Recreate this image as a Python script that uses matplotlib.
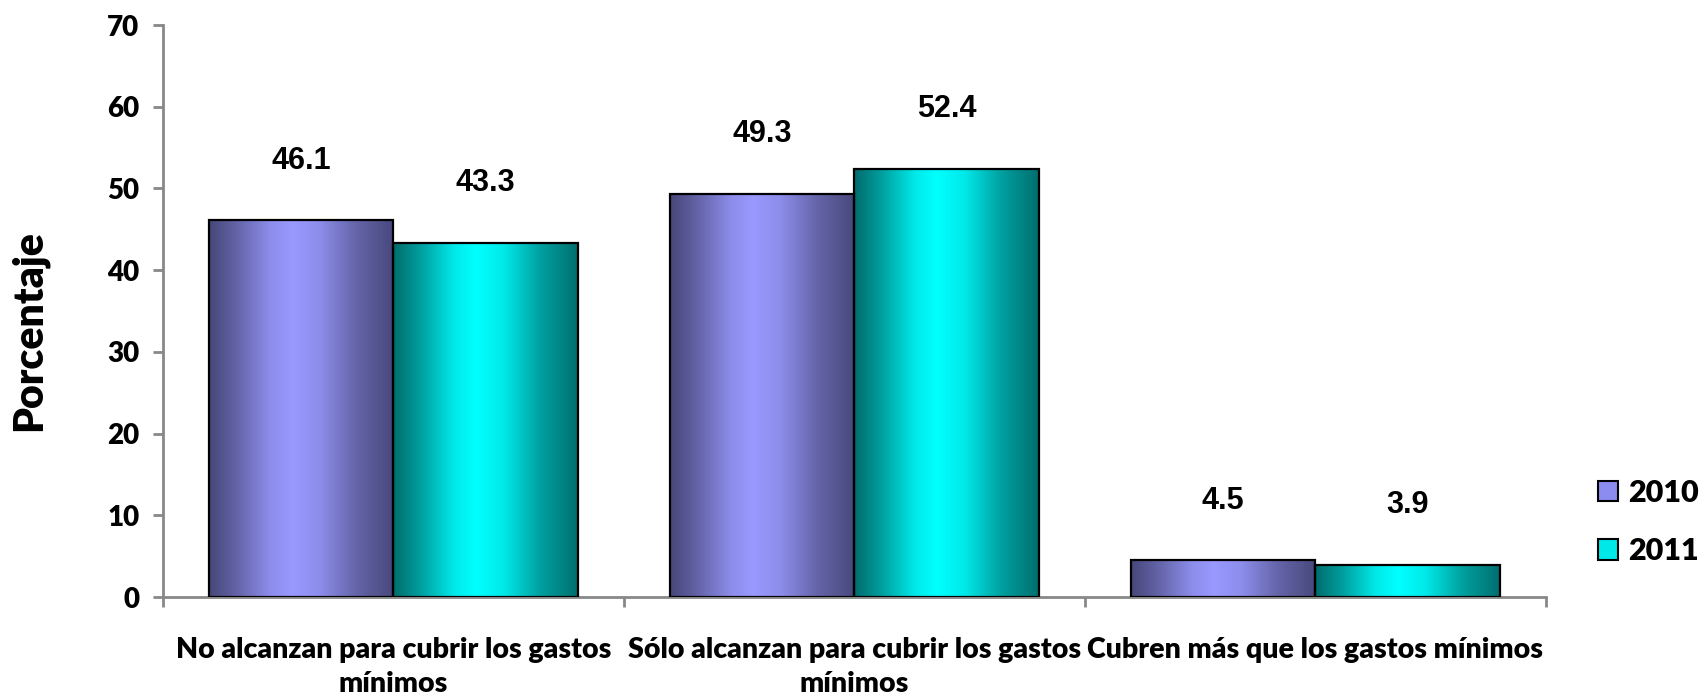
import numpy as np
import matplotlib.pyplot as plt
from matplotlib.colors import to_rgb
from matplotlib.patches import Patch

categories = ['No alcanzan para cubrir los gastos\nmínimos',
              'Sólo alcanzan para cubrir los gastos\nmínimos',
              'Cubren más que los gastos mínimos']
years = ['2010', '2011']
values_2010 = [46.1, 49.3, 4.5]
values_2011 = [43.3, 52.4, 3.9]

# dark edge / light centre of the cylinder-like shading
shades = {'2010': ('#47477a', '#9999ff'), '2011': ('#006c6c', '#00ffff')}

calibri = 'Lato'
heavy = 'heavy'
fig = plt.figure(figsize=(17.06, 6.98), dpi=100)
ax = fig.add_axes([163 / 1706, 1 - 597 / 698, (1546 - 163) / 1706, (597 - 25) / 698])

x = np.arange(len(categories))
w = 0.4


def shaded_bars(xpos, vals, year):
    dark, light = np.array(to_rgb(shades[year][0])), np.array(to_rgb(shades[year][1]))
    t = np.linspace(0, 1, 200)
    f = np.interp(t, [0, 0.15, 0.33, 0.45, 0.6, 0.8, 1], [0, 0.35, 0.85, 1, 0.85, 0.35, 0.02])
    grad = dark[None, :] * (1 - f[:, None]) + light[None, :] * f[:, None]
    grad = grad[None, :, :]
    bars = ax.bar(xpos, vals, w, color='none', edgecolor='black', linewidth=1.6, zorder=3)
    for b in bars:
        x0, y0 = b.get_x(), b.get_y()
        im = ax.imshow(grad, extent=[x0, x0 + b.get_width(), y0, y0 + b.get_height()],
                       aspect='auto', zorder=2, interpolation='bilinear')
        im.set_clip_path(b)
    return bars


b1 = shaded_bars(x - w / 2, values_2010, '2010')
b2 = shaded_bars(x + w / 2, values_2011, '2011')

for bars, vals in [(b1, values_2010), (b2, values_2011)]:
    for b, v in zip(bars, vals):
        ax.annotate(f'{v:.1f}', (b.get_x() + b.get_width() / 2, v), xytext=(0, 43),
                    textcoords='offset points', ha='center', va='center',
                    fontsize=22, fontweight='bold', family='Liberation Sans')

ax.set_xlim(-0.5, len(categories) - 0.5)
ax.set_ylim(0, 70)
ax.set_yticks(range(0, 71, 10))
ax.set_xticks(x)
ax.set_xticklabels(categories, fontsize=20.5, fontweight=heavy, family=calibri, linespacing=1.35)
ax.set_xticks(np.arange(len(categories) + 1) - 0.5, minor=True)
ax.tick_params(axis='x', which='major', length=0, pad=29)
ax.tick_params(axis='x', which='minor', length=7, width=2, color='#888888', direction='out')
ax.tick_params(axis='y', length=7, width=2, color='#888888', direction='out', pad=10)
for lab in ax.get_yticklabels():
    lab.set_fontsize(20)
    lab.set_fontweight(heavy)
    lab.set_family(calibri)

for s in ['top', 'right']:
    ax.spines[s].set_visible(False)
for s in ['left', 'bottom']:
    ax.spines[s].set_color('#888888')
    ax.spines[s].set_linewidth(2)

ax.set_ylabel('Porcentaje', fontsize=29.5, fontweight=heavy, family=calibri)
ax.yaxis.set_label_coords(-0.083, 0.465)

handles = [Patch(facecolor='#8c8cf0', edgecolor='black', linewidth=1.5),
           Patch(facecolor='#00e8e8', edgecolor='black', linewidth=1.5)]
fig.legend(handles, years, loc='center left', bbox_to_anchor=(1598 / 1706, 1 - 522 / 698),
           frameon=False, prop={'family': calibri, 'weight': heavy, 'size': 22},
           handlelength=0.65, handleheight=0.65, handletextpad=0.35, labelspacing=1.0,
           borderaxespad=0, borderpad=0)

fig.savefig('out.png', dpi=100)
